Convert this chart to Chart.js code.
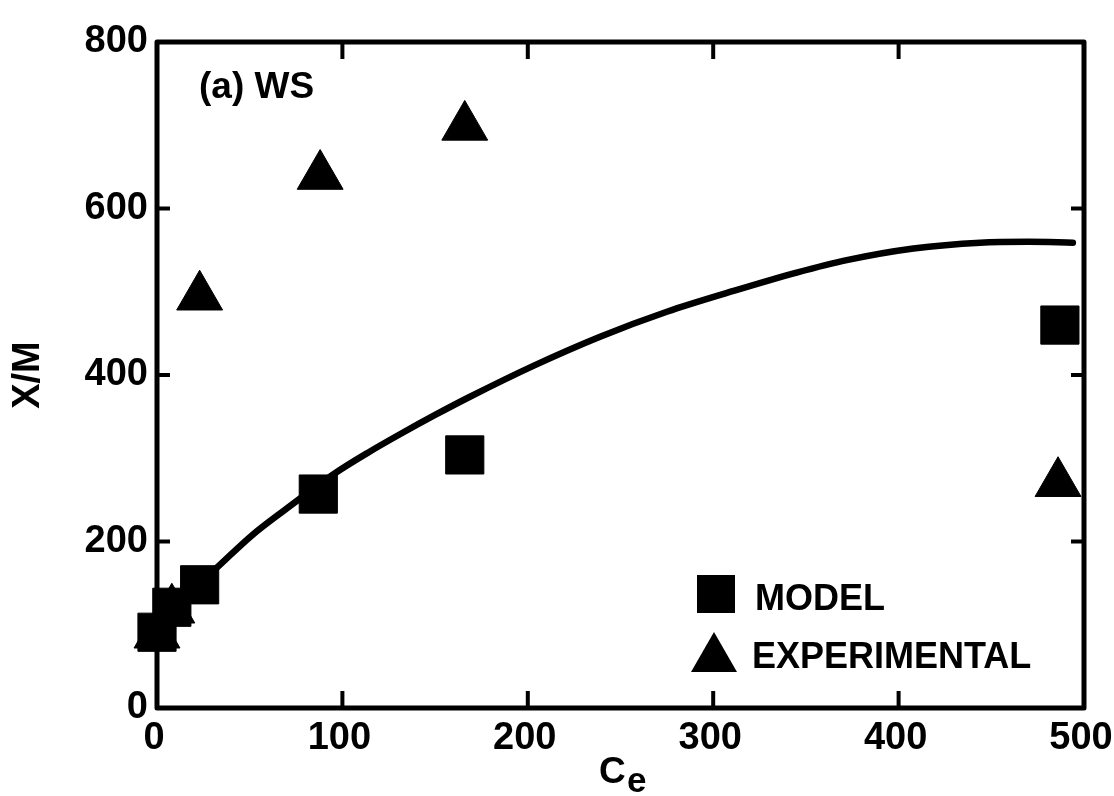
<!DOCTYPE html>
<html><head><meta charset="utf-8">
<script src="https://cdn.jsdelivr.net/npm/chart.js@4"></script>
<style>html,body{margin:0;padding:0;background:#fff;}#wrap{width:1114px;height:796px;}</style>
</head><body><div id="wrap"><canvas id="c" width="1114" height="796"></canvas></div>
<script>
// ---- data ----
const modelX = [0, 8, 23, 87, 166, 487];
const modelY = [91, 121, 148, 257, 304, 460];
const expX = [0, 8, 23, 88, 166, 486];
const expY = [88, 118, 494, 639, 698, 270];
const curveX = [0, 10, 23, 32, 51, 69, 96, 114, 132, 150, 168, 203, 239, 275, 311, 345, 372, 408, 444, 470, 494];
const curveY = [95, 125, 150, 168, 207, 238, 282, 307, 330, 352, 373, 411, 446, 476, 501, 523, 538, 552, 559, 560, 559];
const xTickLabels = ['0', '100', '200', '300', '400', '500'];
const yTickLabels = ['0', '200', '400', '600', '800'];
const seriesNames = ['MODEL', 'EXPERIMENTAL'];
const panelLabel = '(a) WS';
const xTitleMain = 'C';
const xTitleSub = 'e';
const yTitle = 'X/M';

const FONT = "'Liberation Sans', Arial, Helvetica, sans-serif";
const toPts = (xs, ys) => xs.map((x, i) => ({x: x, y: ys[i]}));

const framePlugin = {
  id: 'frame',
  afterDatasetsDraw(chart) {
    const {ctx, chartArea: a, scales: {x, y}} = chart;
    ctx.save();
    ctx.strokeStyle = '#000';
    ctx.lineJoin = 'round';
    ctx.lineWidth = 5;
    ctx.strokeRect(a.left, a.top, a.right - a.left, a.bottom - a.top);
    ctx.lineWidth = 4;
    ctx.lineCap = 'butt';
    x.ticks.forEach(t => {
      if (t.value <= x.min || t.value >= x.max) return;
      const px = x.getPixelForValue(t.value);
      ctx.beginPath();
      ctx.moveTo(px, a.bottom); ctx.lineTo(px, a.bottom - 17);
      ctx.moveTo(px, a.top); ctx.lineTo(px, a.top + 17);
      ctx.stroke();
    });
    y.ticks.forEach(t => {
      if (t.value <= y.min || t.value >= y.max) return;
      const py = y.getPixelForValue(t.value);
      ctx.beginPath();
      ctx.moveTo(a.left, py); ctx.lineTo(a.left + 13, py);
      ctx.moveTo(a.right, py); ctx.lineTo(a.right - 13, py);
      ctx.stroke();
    });
    ctx.restore();
  },
  afterDraw(chart) {
    const {ctx} = chart;
    ctx.save();
    ctx.fillStyle = '#000';
    ctx.textBaseline = 'alphabetic';
    ctx.textAlign = 'left';
    // panel label
    ctx.font = 'bold 37px ' + FONT;
    ctx.fillText(panelLabel, 199, 98);
    // legend
    const ds = chart.data.datasets;
    ctx.fillRect(697, 575, 38, 38);
    ctx.font = 'bold 36px ' + FONT;
    ctx.fillText(ds[0].label, 755, 610);
    ctx.beginPath();
    ctx.moveTo(714, 632); ctx.lineTo(737, 672); ctx.lineTo(691, 672); ctx.closePath();
    ctx.fill();
    ctx.fillText(ds[1].label, 752, 668);
    // x title C with subscript e
    ctx.font = 'bold 37px ' + FONT;
    ctx.fillText(xTitleMain, 599, 783);
    ctx.font = 'bold 35px ' + FONT;
    ctx.fillText(xTitleSub, 627, 792);
    ctx.restore();
  }
};

new Chart(document.getElementById('c'), {
  type: 'scatter',
  data: {
    datasets: [
      {label: seriesNames[0], data: toPts(modelX, modelY), pointStyle: 'rect', pointRadius: 27,
       backgroundColor: '#000', borderColor: '#000', borderWidth: 1, clip: false},
      {label: seriesNames[1], data: toPts(expX, expY), pointStyle: 'triangle', pointRadius: 26.5,
       backgroundColor: '#000', borderColor: '#000', borderWidth: 1, clip: false},
      {label: 'curve', data: toPts(curveX, curveY), showLine: true, pointRadius: 0, borderColor: '#000',
       borderWidth: 6.5, borderCapStyle: 'round', cubicInterpolationMode: 'monotone', fill: false, clip: false}
    ]
  },
  options: {
    responsive: false, animation: false, devicePixelRatio: 1,
    layout: {padding: {top: 42, right: 30, bottom: 0, left: 0}},
    plugins: {legend: {display: false}, tooltip: {enabled: false}},
    scales: {
      x: {
        type: 'linear', min: 0, max: 500,
        grid: {display: false, drawTicks: false}, border: {display: false},
        ticks: {stepSize: 100, autoSkip: false, maxRotation: 0, color: '#000', padding: 8, labelOffset: -3,
                font: {family: FONT, size: 38, weight: 'bold'},
                callback: (v) => { const i = xTickLabels.indexOf(String(v)); return i >= 0 ? xTickLabels[i] : null; }},
        afterFit(s) { s.height = 88; s.paddingRight = 0; s.paddingLeft = 0; }
      },
      y: {
        type: 'linear', min: 0, max: 800,
        grid: {display: false, drawTicks: false}, border: {display: false},
        ticks: {stepSize: 100, autoSkip: false, color: '#000', padding: 9,
                font: {family: FONT, size: 38, weight: 'bold'},
                callback: (v) => { const i = yTickLabels.indexOf(String(v)); return i >= 0 ? yTickLabels[i] : null; }},
        title: {display: true, text: yTitle, color: '#000', font: {family: FONT, size: 38, weight: 'bold'}, padding: {top: 6, bottom: 0}},
        afterFit(s) { s.width = 157; }
      }
    }
  },
  plugins: [framePlugin]
});
</script></body></html>
